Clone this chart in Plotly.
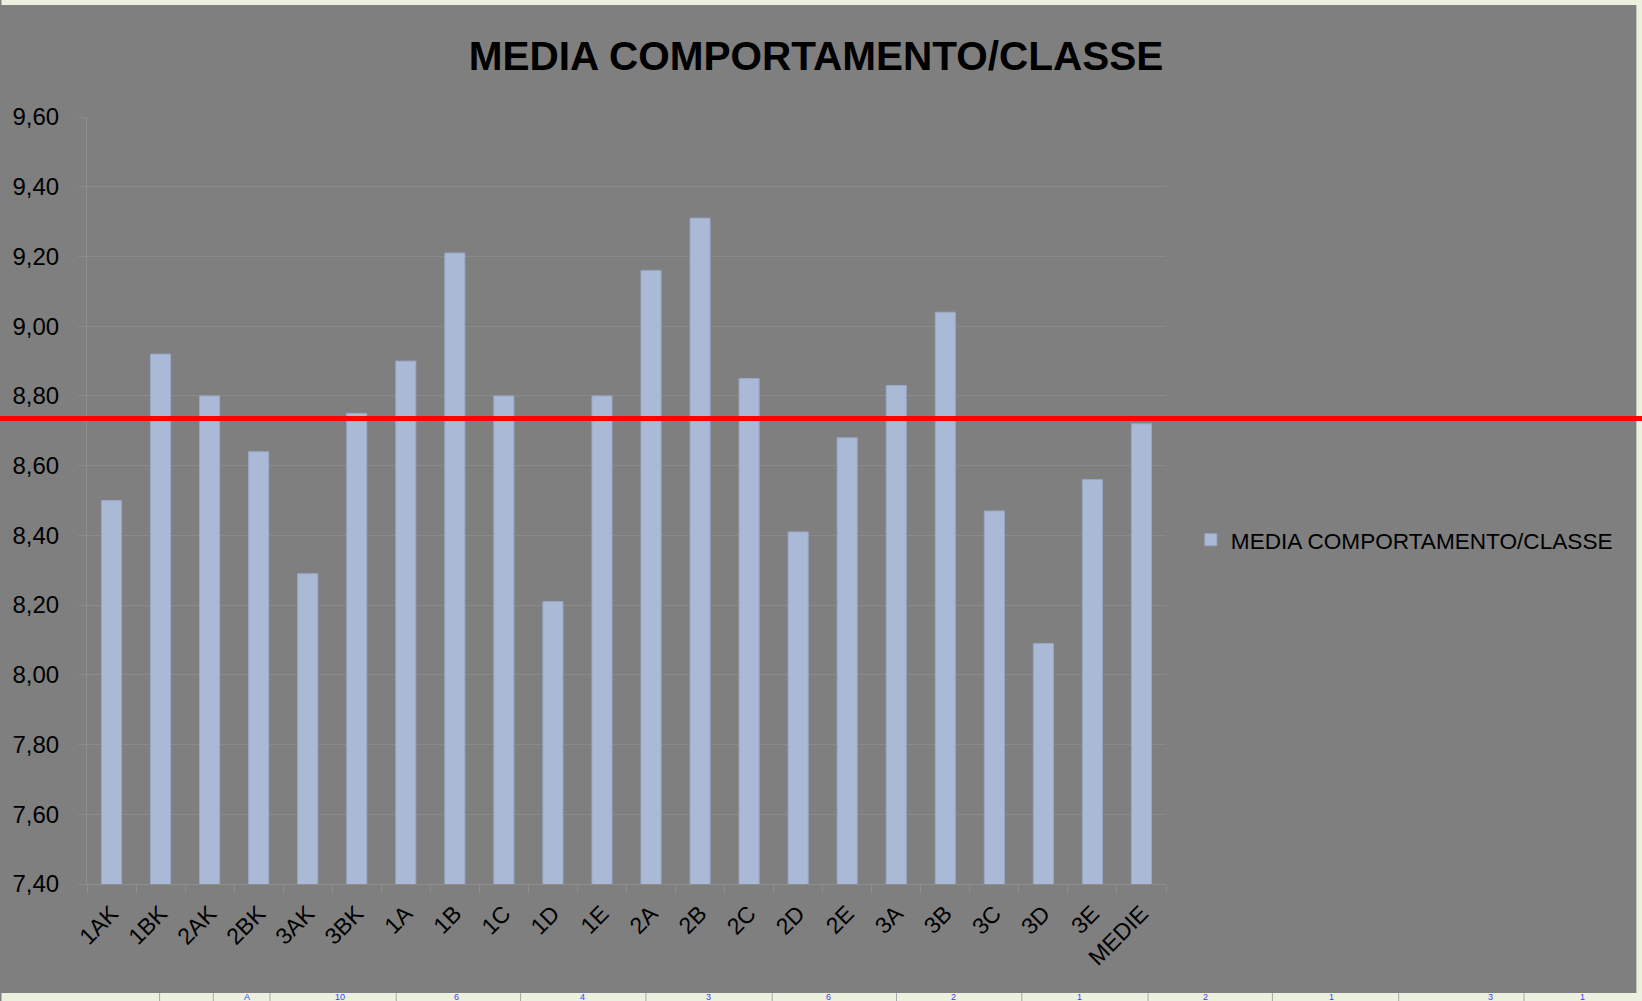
import plotly.graph_objects as go

# data
classi = ["1AK", "1BK", "2AK", "2BK", "3AK", "3BK", "1A", "1B", "1C", "1D", "1E",
          "2A", "2B", "2C", "2D", "2E", "3A", "3B", "3C", "3D", "3E", "MEDIE"]
media = [8.50, 8.92, 8.80, 8.64, 8.29, 8.75, 8.90, 9.21, 8.80, 8.21, 8.80,
         9.16, 9.31, 8.85, 8.41, 8.68, 8.83, 9.04, 8.47, 8.09, 8.56, 8.72]
soglia = 8.735          # red reference line drawn across the sheet
y_ticks = [7.40, 7.60, 7.80, 8.00, 8.20, 8.40, 8.60, 8.80, 9.00, 9.20, 9.40, 9.60]

# spreadsheet row peeking out below the chart
riga_valori = ["A", "10", "6", "4", "3", "6", "2", "1", "2", "1", "3", "1"]
riga_centri = [237, 328, 453, 579, 706, 831, 957, 1084, 1210, 1337, 1497, 1589]
riga_bordi = [154, 208, 265, 392, 517, 643, 770, 895, 1021, 1148, 1273, 1400, 1526]

W, H = 1642, 1001
L, R, T, B = 81, 1166, 117, 884          # plot area in pixels
BG = "#7f7f7f"
FONT = "Liberation Sans"


def px(xp):      # page pixel -> paper x
    return (xp - L) / (R - L)


def py(yp):      # page pixel -> paper y
    return (B - yp) / (B - T)


fig = go.Figure()
fig.add_trace(go.Bar(
    x=classi, y=media, name="MEDIA COMPORTAMENTO/CLASSE",
    marker=dict(color="#a9b9d6", line=dict(color="#97a7c4", width=1)),
))

strip = "#ebf1de"
shapes = [
    # light spreadsheet strips (top, bottom, right edge)
    dict(type="rect", xref="paper", yref="paper", x0=px(-5), x1=px(W + 5),
         y0=py(5), y1=py(-5), fillcolor=strip, line=dict(width=0), layer="below"),
    dict(type="rect", xref="paper", yref="paper", x0=px(-5), x1=px(W + 5),
         y0=py(H + 5), y1=py(993), fillcolor=strip, line=dict(width=0), layer="below"),
    dict(type="rect", xref="paper", yref="paper", x0=px(1639), x1=px(W + 5),
         y0=py(H + 5), y1=py(-5), fillcolor=strip, line=dict(width=0), layer="below"),
]
for bx in riga_bordi:
    shapes.append(dict(type="line", xref="paper", yref="paper",
                       x0=px(bx), x1=px(bx), y0=py(H), y1=py(993),
                       line=dict(color="#a8a8a8", width=1)))
# red line over the whole sheet
shapes.append(dict(type="line", xref="paper", yref="y", x0=px(-10), x1=px(W + 10),
                   y0=soglia, y1=soglia, line=dict(color="#ff0000", width=5),
                   layer="above"))
fig.update_layout(shapes=shapes)

fig.update_layout(
    width=W, height=H, autosize=False,
    paper_bgcolor=BG, plot_bgcolor=BG,
    separators=",.",
    margin=dict(l=L, r=W - R, t=T, b=H - B, pad=0),
    bargap=0.59,
    font=dict(family=FONT, color="#000000", size=23),
    title=dict(text="MEDIA COMPORTAMENTO/CLASSE", x=816 / W, xanchor="center",
               y=1 - 55.5 / H, yanchor="middle",
               font=dict(family=FONT, size=40.5, color="#000000", weight="bold")),
    showlegend=True,
    legend=dict(x=px(1191), xanchor="left", y=py(540), yanchor="middle",
                font=dict(family=FONT, size=22.6, color="#000000"),
                bgcolor="rgba(0,0,0,0)", itemwidth=30),
    xaxis=dict(
        type="category", showgrid=False, tickson="boundaries",
        ticks="outside", ticklen=8, tickcolor="#8e8e8e",
        showline=True, linecolor="#8e8e8e", linewidth=1,
        tickangle=-45, tickfont=dict(family=FONT, size=23, color="#000000"),
        ticklabelstandoff=6,
    ),
    yaxis=dict(
        range=[7.40, 9.60], tickvals=y_ticks, tickformat=".2f",
        showgrid=True, gridcolor="#8a8a8a", gridwidth=1,
        ticks="outside", ticklen=8, tickcolor="#8a8a8a",
        showline=True, linecolor="#8e8e8e", linewidth=1,
        zeroline=False,
        tickfont=dict(family=FONT, size=24, color="#000000"),
        ticklabelstandoff=14,
    ),
)

# text of the spreadsheet row
for v, cx in zip(riga_valori, riga_centri):
    fig.add_annotation(x=px(cx), xref="paper", y=py(997), yref="paper",
                       text=v, showarrow=False, yanchor="middle",
                       font=dict(family=FONT, size=9, color="#3b3bff"))

fig.write_html("out.html", config={"displayModeBar": False},
               post_script="document.body.style.margin='0';")
